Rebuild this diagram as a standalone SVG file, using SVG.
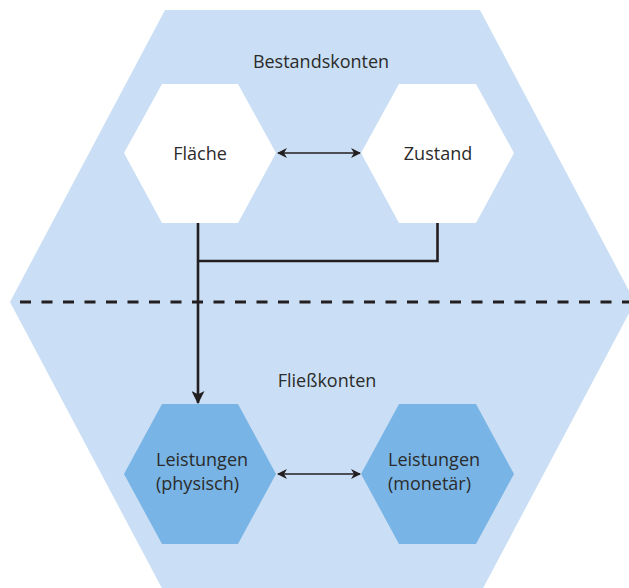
<svg xmlns="http://www.w3.org/2000/svg" width="629" height="588" viewBox="0 0 629 588">
<style>
text{font-family:"Open Sans",Lato,"Liberation Sans",sans-serif;font-size:18px;fill:#2b2b2b}
.w{fill:#ffffff}
.b{fill:#78b4e5}
.ln{stroke:#231f20;stroke-width:2.6;fill:none}
.ar{stroke:#231f20;stroke-width:1.5;fill:none}
</style>
<defs>
<marker id="ah" viewBox="0 0 10 10" refX="9" refY="5" markerWidth="10" markerHeight="10" markerUnits="userSpaceOnUse" orient="auto-start-reverse">
<path d="M0,0 L10,5 L0,10 L3,5 Z" fill="#231f20"/>
</marker>
<marker id="ahd" viewBox="0 0 12 12" refX="11" refY="6" markerWidth="13" markerHeight="13" markerUnits="userSpaceOnUse" orient="auto">
<path d="M0,0 L12,6 L0,12 L3,6 Z" fill="#231f20"/>
</marker>
</defs>
<g id="bg">
<polygon points="165,10 480,10 635,302 480,594 165,594 10,302" fill="#cadff5"/>
<text x="321" y="68" text-anchor="middle">Bestandskonten</text>
<text x="327" y="387" text-anchor="middle">Fließkonten</text>
</g>
<g id="flaeche">
<polygon class="w" points="162,84 238,84 276,153 238,223 162,223 124,153"/>
<text x="200" y="160" text-anchor="middle">Fläche</text>
</g>
<g id="zustand">
<polygon class="w" points="399,84 476,84 514,153 476,223 399,223 361,153"/>
<text x="438" y="160" text-anchor="middle">Zustand</text>
</g>
<g id="leist_phys">
<polygon class="b" points="162,404 238,404 276,474 238,544 162,544 124,474"/>
<text x="156" y="466">Leistungen</text>
<text x="156" y="490">(physisch)</text>
</g>
<g id="leist_mon">
<polygon class="b" points="399,404 476,404 514,474 476,544 399,544 361,474"/>
<text x="388" y="466">Leistungen</text>
<text x="388" y="490">(monetär)</text>
</g>
<g id="connectors">
<line x1="20" y1="302" x2="629" y2="302" stroke="#231f20" stroke-width="3" stroke-dasharray="11,10.5"/>
<line class="ar" x1="278" y1="153" x2="360" y2="153" marker-start="url(#ah)" marker-end="url(#ah)"/>
<line class="ar" x1="278" y1="474" x2="360" y2="474" marker-start="url(#ah)" marker-end="url(#ah)"/>
<polyline class="ln" points="437.5,223 437.5,261 198,261"/>
<line class="ln" x1="198" y1="223" x2="198" y2="403" marker-end="url(#ahd)"/>
</g>
</svg>
